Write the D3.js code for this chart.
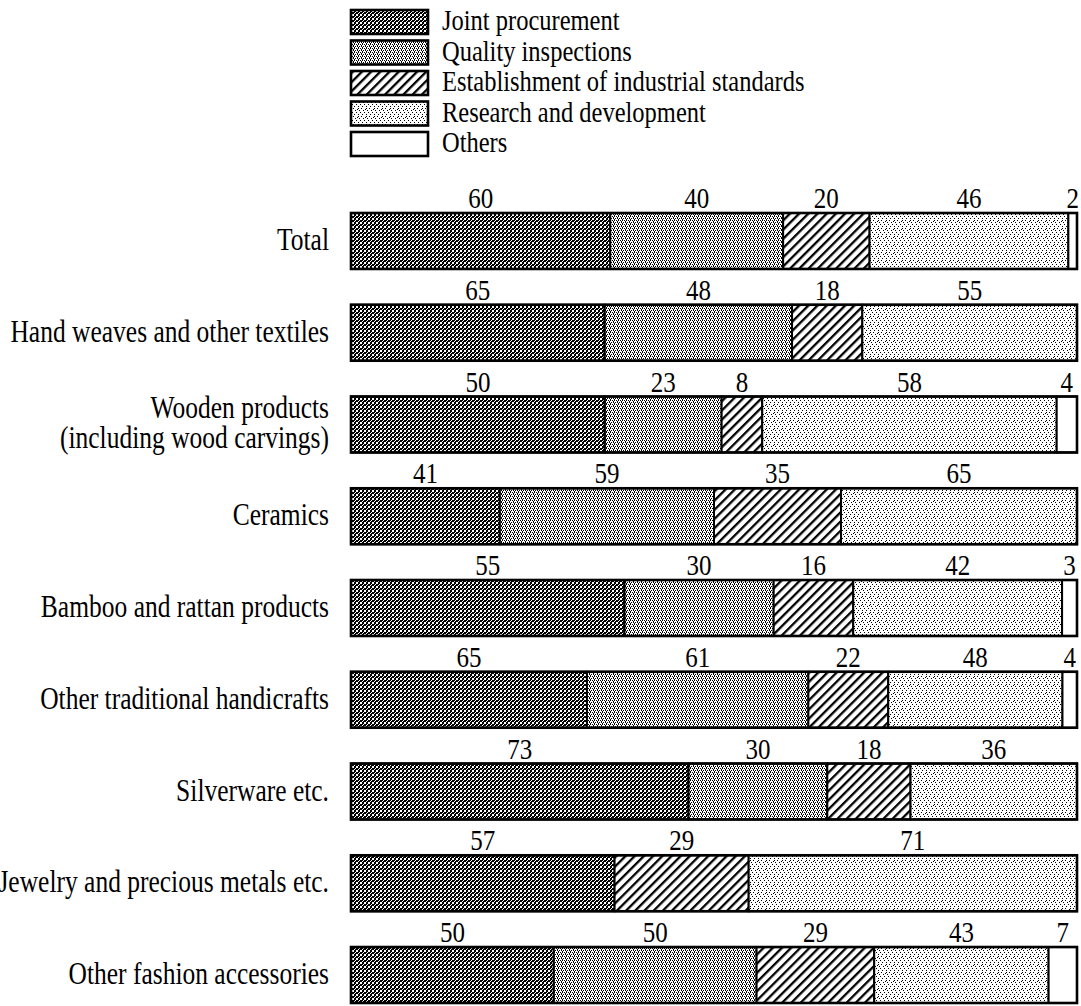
<!DOCTYPE html>
<html>
<head>
<meta charset="utf-8">
<script src="https://cdn.jsdelivr.net/npm/d3@7"></script>
<style>
  html, body { margin: 0; padding: 0; background: #fff; }
  svg { display: block; }
  text { font-family: "Liberation Serif", "Times New Roman", serif; fill: #000; }
</style>
</head>
<body>
<svg id="chart" width="1081" height="1006"></svg>
<script>
// Categories (one bar each) and the five stacked series
const categories = [
  "Total",
  "Hand weaves and other textiles",
  "Wooden products|(including wood carvings)",
  "Ceramics",
  "Bamboo and rattan products",
  "Other traditional handicrafts",
  "Silverware etc.",
  "Jewelry and precious metals etc.",
  "Other fashion accessories"
];
const jointProcurement    = [60, 65, 50, 41, 55, 65, 73, 57, 50];
const qualityInspections  = [40, 48, 23, 59, 30, 61, 30,  0, 50];
const industrialStandards = [20, 18,  8, 35, 16, 22, 18, 29, 29];
const researchDevelopment = [46, 55, 58, 65, 42, 48, 36, 71, 43];
const others              = [ 2,  0,  4,  0,  3,  4,  0,  0,  7];

const seriesNames = [
  "Joint procurement",
  "Quality inspections",
  "Establishment of industrial standards",
  "Research and development",
  "Others"
];
const seriesKeys = ["joint", "quality", "standards", "research", "others"];
const seriesValues = [jointProcurement, qualityInspections, industrialStandards, researchDevelopment, others];

const rows = categories.map((c, i) => {
  const r = { category: c };
  seriesKeys.forEach((k, j) => { r[k] = seriesValues[j][i]; });
  r.total = d3.sum(seriesKeys, k => r[k]);
  return r;
});

const svg = d3.select("#chart");
const defs = svg.append("defs");

function pixelPattern(id, size, pixels, cell) {
  const p = defs.append("pattern").attr("id", id)
    .attr("patternUnits", "userSpaceOnUse").attr("width", size).attr("height", size);
  p.append("rect").attr("width", size).attr("height", size).attr("fill", "#fff");
  pixels.forEach(([x, y]) =>
    p.append("rect").attr("x", x).attr("y", y).attr("width", cell).attr("height", cell).attr("fill", "#000"));
  return p;
}

// dark tone: coarse checker with diagonal streaks
pixelPattern("pat-joint", 4, [[0,0],[1,0],[0,1],[1,1],[2,2],[3,2],[2,3],[3,3],[2,0],[3,1]], 1);
// mid tone: fine dither
pixelPattern("pat-quality", 4, [[0,0],[2,0],[1,1],[3,2],[1,2],[2,3]], 1);
// light tone: sparse stipple
pixelPattern("pat-research", 8, [[0,0],[4,0],[2,2],[6,2],[1,4],[5,5],[3,6],[7,6],[6,4]], 1);

// diagonal hatching
const pStd = defs.append("pattern").attr("id", "pat-standards")
  .attr("patternUnits", "userSpaceOnUse").attr("width", 6.5).attr("height", 6.5)
  .attr("patternTransform", "rotate(45)");
pStd.append("rect").attr("width", 6.5).attr("height", 6.5).attr("fill", "#fff");
pStd.append("rect").attr("x", 0).attr("y", 0).attr("width", 2.3).attr("height", 6.5).attr("fill", "#000");

const fills = {
  joint: "url(#pat-joint)",
  quality: "url(#pat-quality)",
  standards: "url(#pat-standards)",
  research: "url(#pat-research)",
  others: "#fff"
};

// tall serif text, as set in the printed figure
const STRETCH = 1.2;
function label(g, x, y, str, size, anchor) {
  return g.append("text")
    .attr("transform", `translate(${x},${y}) scale(1,${STRETCH})`)
    .attr("text-anchor", anchor)
    .style("font-size", size + "px")
    .text(str);
}

// --- layout ---
const barLeft = 351, barRight = 1077;
const y = d3.scaleBand().domain(categories).range([213, 1003]).paddingInner(0.39).paddingOuter(0);

const stacked = d3.stack().keys(seriesKeys)(rows);
const plot = svg.append("g");

rows.forEach((row, i) => {
  const x = d3.scaleLinear().domain([0, row.total]).range([barLeft, barRight]);
  const y0 = y(row.category), h = y.bandwidth();
  const g = plot.append("g");

  stacked.forEach(layer => {
    const seg = layer[i];
    const v = seg[1] - seg[0];
    if (v <= 0) return;
    g.append("rect")
      .attr("x", x(seg[0])).attr("y", y0)
      .attr("width", x(seg[1]) - x(seg[0])).attr("height", h)
      .attr("fill", fills[layer.key])
      .attr("stroke", "#000").attr("stroke-width", 2);
    label(g, (x(seg[0]) + x(seg[1])) / 2, y0 - 5, v, 25, "middle");
  });

  g.append("rect")
    .attr("x", barLeft).attr("y", y0)
    .attr("width", barRight - barLeft).attr("height", h)
    .attr("fill", "none").attr("stroke", "#000").attr("stroke-width", 2.6);

  // category label (may wrap onto two lines)
  const lines = row.category.split("|");
  const cy = y0 + h / 2;
  lines.forEach((ln, k) => {
    const off = (k - (lines.length - 1) / 2) * 30;
    label(g, 329, cy + 9 + off, ln, 25.5, "end");
  });
});

// --- legend ---
const legend = svg.append("g");
seriesKeys.forEach((k, i) => {
  const top = 10 + i * 30.5;
  legend.append("rect")
    .attr("x", 351).attr("y", top).attr("width", 77).attr("height", 24)
    .attr("fill", fills[k]).attr("stroke", "#000").attr("stroke-width", 2.6);
  label(legend, 442, top + 20, seriesNames[i], 24.5, "start");
});
</script>
</body>
</html>
